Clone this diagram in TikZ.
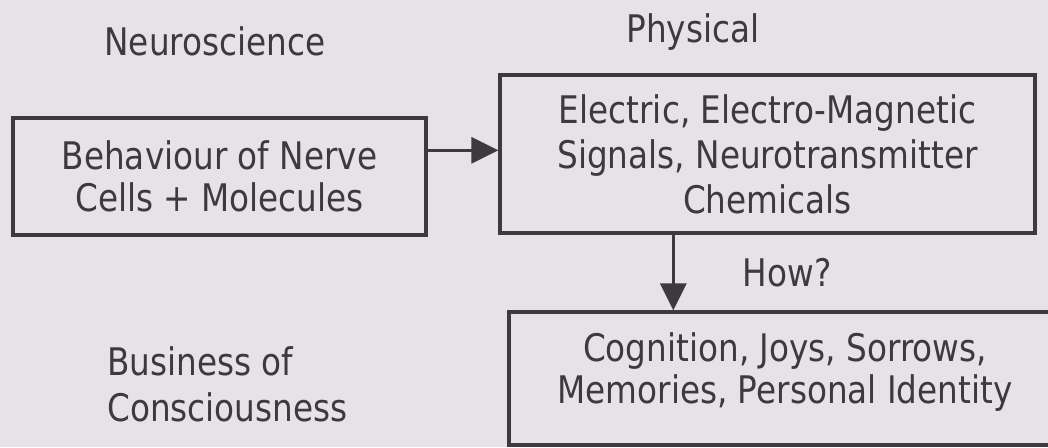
\documentclass[tikz,border=0pt]{standalone}
\usepackage{fontspec}
\setmainfont{DejaVu Sans}[FakeStretch=0.86]
\usetikzlibrary{arrows.meta,calc}
\definecolor{bgc}{RGB}{229,227,231}
\definecolor{ink}{RGB}{60,58,62}
\tikzset{
  boxnode/.style={draw=ink, line width=3.2pt, rectangle, inner sep=0pt, align=center, text=ink},
  txt/.style={text=ink, inner sep=0pt},
  arr/.style={draw=ink, line width=3.2pt, -{Triangle[length=27pt,width=26pt]}},
}
\newcommand{\bigfont}[1]{\fontsize{38}{#1}\selectfont}
\begin{document}
\begin{tikzpicture}[x=1pt,y=-1pt]
\useasboundingbox (0,0) rectangle (1048,447);
\fill[bgc] (0,0) rectangle (1048,447);
\clip (0,0) rectangle (1048,447);
\node[txt, anchor=base, font=\bigfont{45}] (neuro) at (215,55) {Neuroscience};
\node[txt, anchor=base, font=\bigfont{45}] (phys) at (693,42) {Physical};
\node[boxnode, minimum width=413pt, minimum height=117pt, font=\bigfont{42.5}] (box1) at (219.5,176.5) {Behaviour of Nerve\\Cells + Molecules};
\node[boxnode, minimum width=535pt, minimum height=158pt, font=\bigfont{45}] (box2) at (767.5,154) {Electric, Electro-Magnetic\\Signals, Neurotransmitter\\Chemicals};
\node[boxnode, minimum width=552pt, minimum height=133pt, font=\bigfont{41.5}, text depth=21pt] (box3) at (785,378.5) {Cognition, Joys, Sorrows,\\Memories, Personal Identity};
\node[txt, anchor=base, font=\bigfont{45}] (how) at (787,286) {How?};
\node[txt, anchor=west, align=left, font=\bigfont{45.7}] (biz) at (107,384.5) {Business of\\Consciousness};
\coordinate (a1) at ($(box1.north east)!0.282!(box1.south east)$);
\draw[arr] (a1) -- (a1 -| box2.west);
\coordinate (a2) at ($(box2.south west)!0.325!(box2.south east)$);
\draw[arr] (a2) -- (a2 |- box3.north);
\end{tikzpicture}
\end{document}
